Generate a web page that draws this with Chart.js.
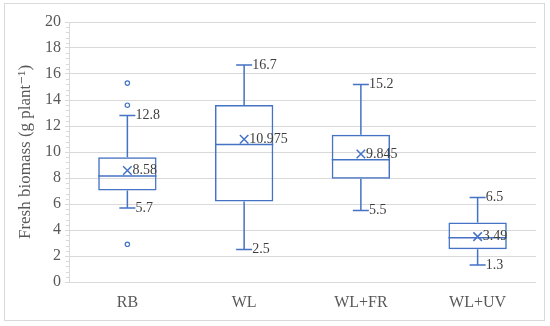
<!DOCTYPE html>
<html>
<head>
<meta charset="utf-8">
<script src="https://cdn.jsdelivr.net/npm/chart.js@4/dist/chart.umd.min.js"></script>
<style>
  body { margin: 0; background: #fff; }
</style>
</head>
<body>
<canvas id="biomassChart" width="550" height="326"></canvas>
<script>
// box plot values
const groups = ['RB', 'WL', 'WL+FR', 'WL+UV'];
const whiskerMin = [5.7, 2.5, 5.5, 1.3];
const q1 = [7.03, 6.2, 7.95, 2.52];
const median = [8.16, 10.58, 9.4, 3.4];
const q3 = [9.6, 13.62, 11.33, 4.58];
const whiskerMax = [12.8, 16.7, 15.2, 6.5];
const means = [8.58, 10.975, 9.845, 3.49];
const outliers = [[15.3, 13.6, 2.9], [], [], []];

const blue = '#4472c4';
const textGrey = '#404040';
const axisGrey = '#595959';
const lineGrey = '#d9d9d9';
const serif = "'Liberation Serif', 'DejaVu Serif', serif";

const outlierPoints = [];
outliers.forEach((vals, i) => {
  vals.forEach(v => outlierPoints.push({ x: groups[i], y: v }));
});

// whiskers, medians, labels, minor ticks and frame
const boxExtras = {
  id: 'boxExtras',
  beforeDatasetsDraw(chart) {
    const { ctx, scales: { x, y } } = chart;
    ctx.save();
    ctx.strokeStyle = blue;
    ctx.lineWidth = 1.5;
    groups.forEach((g, i) => {
      const cx = x.getPixelForValue(i);
      const half = chart.getDatasetMeta(2).data[i].width / 2;
      ctx.beginPath();
      // upper whisker
      ctx.moveTo(cx, y.getPixelForValue(q3[i]));
      ctx.lineTo(cx, y.getPixelForValue(whiskerMax[i]));
      ctx.moveTo(cx - 8, y.getPixelForValue(whiskerMax[i]));
      ctx.lineTo(cx + 8, y.getPixelForValue(whiskerMax[i]));
      // lower whisker
      ctx.moveTo(cx, y.getPixelForValue(q1[i]));
      ctx.lineTo(cx, y.getPixelForValue(whiskerMin[i]));
      ctx.moveTo(cx - 8, y.getPixelForValue(whiskerMin[i]));
      ctx.lineTo(cx + 8, y.getPixelForValue(whiskerMin[i]));
      // median
      ctx.moveTo(cx - half, y.getPixelForValue(median[i]));
      ctx.lineTo(cx + half, y.getPixelForValue(median[i]));
      ctx.stroke();
    });
    ctx.restore();
  },
  afterDatasetsDraw(chart) {
    const { ctx, scales: { x, y } } = chart;
    ctx.save();
    ctx.fillStyle = textGrey;
    ctx.font = '14px ' + serif;
    ctx.textBaseline = 'middle';
    ctx.textAlign = 'left';
    groups.forEach((g, i) => {
      const cx = x.getPixelForValue(i);
      ctx.fillText(String(whiskerMax[i]), cx + 8, y.getPixelForValue(whiskerMax[i]));
      ctx.fillText(String(whiskerMin[i]), cx + 8, y.getPixelForValue(whiskerMin[i]));
      ctx.fillText(String(means[i]), cx + 5, y.getPixelForValue(means[i]));
    });
    ctx.restore();
  },
  afterDraw(chart) {
    const { ctx, chartArea, scales: { y } } = chart;
    ctx.save();
    ctx.strokeStyle = lineGrey;
    ctx.lineWidth = 1;
    ctx.beginPath();
    for (let k = 0; k <= 50; k++) {
      if (k % 5 === 0) continue;
      const py = Math.round(y.getPixelForValue(k * 0.4)) + 0.5;
      ctx.moveTo(chartArea.left - 3, py);
      ctx.lineTo(chartArea.left, py);
    }
    ctx.stroke();
    ctx.strokeRect(4.5, 3.5, 540, 317);
    ctx.restore();
  }
};

const biomassConfig = {
  data: {
    labels: groups,
    datasets: [
      {
        type: 'line',
        label: 'Mean',
        data: means,
        showLine: false,
        pointStyle: 'crossRot',
        pointRadius: 6,
        borderColor: blue,
        borderWidth: 1.5,
        order: 0,
      },
      {
        type: 'line',
        label: 'Outliers',
        data: outlierPoints,
        showLine: false,
        pointStyle: 'circle',
        pointRadius: 2.2,
        borderColor: blue,
        backgroundColor: '#fff',
        borderWidth: 1.2,
        order: 1,
      },
      {
        type: 'bar',
        label: 'Box',
        data: groups.map((g, i) => [q1[i], q3[i]]),
        backgroundColor: 'rgba(255,255,255,0)',
        borderColor: blue,
        borderWidth: 1.5,
        borderSkipped: false,
        barPercentage: 0.5,
        categoryPercentage: 1,
        order: 2,
      },
    ],
  },
  options: {
    responsive: false,
    animation: false,
    layout: { padding: { left: 4, top: 22, right: 14, bottom: 6 } },
    plugins: {
      legend: { display: false },
      tooltip: { enabled: false },
    },
    scales: {
      x: {
        grid: { display: false },
        border: { display: false },
        ticks: { color: axisGrey, font: { family: serif, size: 16 }, padding: 3 },
        afterFit: function (scale) { scale.height = 38; },
      },
      y: {
        min: 0,
        max: 20,
        ticks: { stepSize: 2, color: axisGrey, font: { family: serif, size: 16 }, padding: 4 },
        grid: { color: lineGrey, tickLength: 4, tickColor: lineGrey },
        border: { display: true, color: lineGrey },
        title: {
          display: true,
          text: 'Fresh biomass (g plant⁻¹)',
          color: axisGrey,
          font: { family: serif, size: 17 },
          padding: { top: 11, bottom: 0 },
        },
        afterFit: function (scale) { scale.width = 65; },
      },
    },
  },
  plugins: [boxExtras],
};

const biomassChart = new Chart(document.getElementById('biomassChart'), biomassConfig);
</script>
</body>
</html>
